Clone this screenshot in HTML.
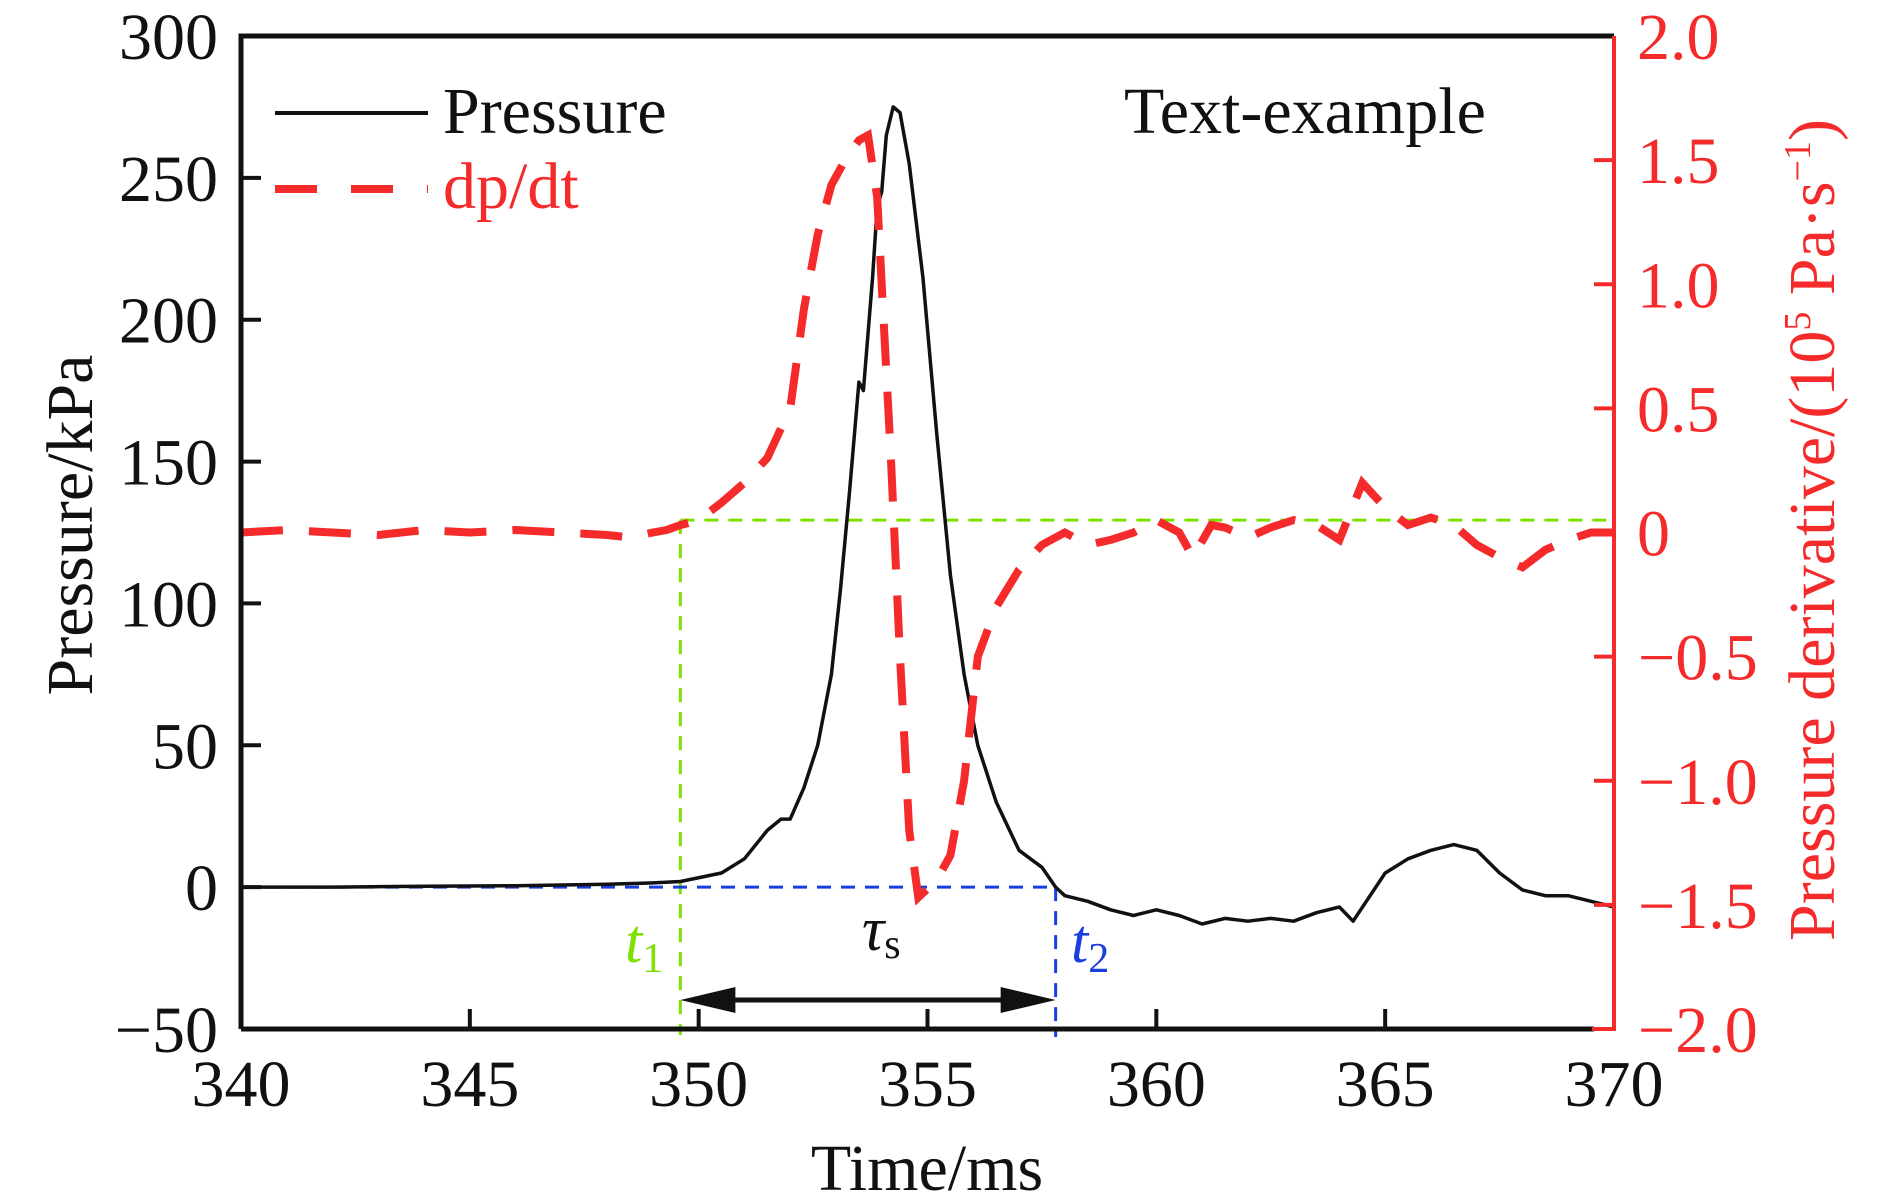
<!DOCTYPE html>
<html><head><meta charset="utf-8"><style>
html,body{margin:0;padding:0;background:#fff;}
svg{display:block;font-family:"Liberation Serif",serif;}
</style></head><body>
<svg id="chart" width="1890" height="1202" viewBox="0 0 1890 1202" xmlns="http://www.w3.org/2000/svg"></svg>
<script>
const xTicks=[340,345,350,355,360,365,370];
const yLeftTicks=[-50,0,50,100,150,200,250,300];
const yRightTicks=[-2.0,-1.5,-1.0,-0.5,0,0.5,1.0,1.5,2.0];
const yRightLabels=["\u22122.0","\u22121.5","\u22121.0","\u22120.5","0","0.5","1.0","1.5","2.0"];
const yLeftLabels=["\u221250","0","50","100","150","200","250","300"];
const pTime=[340,342,344,346,348,349,349.6,350.5,351,351.5,351.8,352,352.3,352.6,352.9,353.1,353.3,353.5,353.6,353.8,353.9,354.0,354.1,354.25,354.4,354.6,354.9,355.2,355.5,355.8,356.1,356.5,357,357.5,357.8,358,358.5,359,359.5,360,360.5,361,361.5,362,362.5,363,363.5,364,364.3,365,365.5,366,366.5,367,367.5,368,368.5,369,369.5,370];
const pValue=[0,0,0.3,0.5,1,1.5,2,5,10,20,24,24,35,50,75,105,140,178,175,215,240,245,265,275,273,255,215,160,110,75,50,30,13,7,0,-3,-5,-8,-10,-8,-10,-13,-11,-12,-11,-12,-9,-7,-12,5,10,13,15,13,5,-1,-3,-3,-5,-7];
const dTime=[340,341,342,343,344,345,346,347,348,348.5,349,349.3,349.6,350,350.5,351,351.5,352,352.3,352.6,352.9,353.2,353.5,353.7,353.9,354.0,354.2,354.4,354.6,354.8,355.2,355.5,355.8,356.1,356.5,357,357.5,358,358.5,359,359.5,360,360.5,360.8,361.2,361.5,362,362.5,363,363.5,364,364.5,365,365.5,366,366.5,367,367.5,368,368.5,369,369.5,370];
const dValue=[0,0.01,0,-0.01,0.01,0,0.01,0,-0.01,-0.02,0,0.01,0.03,0.05,0.12,0.2,0.3,0.5,0.9,1.2,1.4,1.5,1.58,1.6,1.35,1.0,0.3,-0.5,-1.2,-1.47,-1.4,-1.3,-1.0,-0.5,-0.3,-0.15,-0.05,0,-0.05,-0.03,0,0.05,0,-0.1,0.03,0.02,-0.02,0.02,0.05,0.03,-0.03,0.2,0.1,0.03,0.06,0.03,-0.05,-0.1,-0.14,-0.07,-0.03,0,0];
const t1=349.6, t2=357.8, greenLevel=0.05;

const X0=241,X1=1614,YT=36,YB=1029;
const sx=v=>X0+(v-340)/30*(X1-X0);
const sy=v=>YB-(v+50)/350*(YB-YT);
const sr=v=>YB-(v+2)/4*(YB-YT);
const svg=document.getElementById('chart');
const NS='http://www.w3.org/2000/svg';
function mk(tag,attrs,parent){const e=document.createElementNS(NS,tag);for(const k in attrs)e.setAttribute(k,attrs[k]);(parent||svg).appendChild(e);return e;}
function txt(s,attrs){const e=mk('text',attrs);e.textContent=s;return e;}

let g=mk('line',{x1:sx(t1),y1:sr(greenLevel),x2:X1,y2:sr(greenLevel),stroke:'#7ee000','stroke-width':3,'stroke-dasharray':'14 10'});

g=mk('line',{x1:sx(t1),y1:sr(greenLevel),x2:sx(t1),y2:YB+6,stroke:'#7ee000','stroke-width':3,'stroke-dasharray':'14 10'});

g=mk('line',{x1:X0,y1:sy(0),x2:sx(t2),y2:sy(0),stroke:'#1a3fe0','stroke-width':3,'stroke-dasharray':'14 10'});

g=mk('line',{x1:sx(t2),y1:sy(0),x2:sx(t2),y2:YB+8,stroke:'#1a3fe0','stroke-width':3,'stroke-dasharray':'14 10'});


let d=pTime.map((t,i)=>(i?'L':'M')+sx(t).toFixed(1)+','+sy(pValue[i]).toFixed(1)).join('');
g=mk('path',{d:d,fill:'none',stroke:'#111','stroke-width':3.5,'stroke-linejoin':'round'});

d=dTime.map((t,i)=>(i?'L':'M')+sx(t).toFixed(1)+','+sr(dValue[i]).toFixed(1)).join('');
g=mk('path',{d:d,fill:'none',stroke:'#f52a2a','stroke-width':8,'stroke-dasharray':'42 26'});


const ay=1000;
g=mk('line',{x1:sx(t1)+40,y1:ay,x2:sx(t2)-40,y2:ay,stroke:'#111','stroke-width':5});

g=mk('polygon',{points:`${sx(t1)},${ay} ${sx(t1)+55},${ay-13} ${sx(t1)+55},${ay+13}`,fill:'#111'});

g=mk('polygon',{points:`${sx(t2)},${ay} ${sx(t2)-55},${ay-13} ${sx(t2)-55},${ay+13}`,fill:'#111'});


g=mk('path',{d:`M${X0},${YB}V${YT}H${X1}`,fill:'none',stroke:'#111','stroke-width':5});

g=mk('line',{x1:X0,y1:YB,x2:X1-20,y2:YB,stroke:'#111','stroke-width':5});

g=mk('line',{x1:X1,y1:YT,x2:X1,y2:YB+2,stroke:'#f52a2a','stroke-width':4});

g=mk('line',{x1:X1-22,y1:YB,x2:X1+2,y2:YB,stroke:'#f52a2a','stroke-width':4});


xTicks.forEach((v,i)=>{
  if(i>0&&i<xTicks.length-1){const t=mk('line',{x1:sx(v),y1:YB,x2:sx(v),y2:YB-20,stroke:'#111','stroke-width':4});
  }
  const l=txt(String(v),{x:sx(v),y:1106,'font-size':66,'text-anchor':'middle',fill:'#111'});
  
});
yLeftTicks.forEach((v,i)=>{
  if(i>0&&i<yLeftTicks.length-1){const t=mk('line',{x1:X0,y1:sy(v),x2:X0+20,y2:sy(v),stroke:'#111','stroke-width':4});
  }
  const l=txt(yLeftLabels[i],{x:218,y:sy(v)+23,'font-size':66,'text-anchor':'end',fill:'#111'});
  
});
yRightTicks.forEach((v,i)=>{
  if(i>0&&i<yRightTicks.length-1){const t=mk('line',{x1:X1,y1:sr(v),x2:X1-20,y2:sr(v),stroke:'#f52a2a','stroke-width':4});
  }
  const l=txt(yRightLabels[i],{x:v<0?1638:1637,y:sr(v)+23,'font-size':66,'text-anchor':'start',fill:'#f52a2a'});
  
});

g=txt('Time/ms',{x:927,y:1190,'font-size':66,'text-anchor':'middle',fill:'#111'});

g=txt('Pressure/kPa',{x:0,y:0,'font-size':66,'text-anchor':'middle',fill:'#111',transform:'translate(92,525) rotate(-90)'});

g=mk('text',{x:0,y:0,'font-size':66,'text-anchor':'middle',fill:'#f52a2a',transform:'translate(1834,530) rotate(-90)'});

g.innerHTML='Pressure derivative/(10<tspan font-size="38" baseline-shift="24">5</tspan> Pa·s<tspan font-size="38" baseline-shift="24">−1</tspan>)';

g=mk('line',{x1:275,y1:113,x2:428,y2:113,stroke:'#111','stroke-width':4});

g=txt('Pressure',{x:443,y:133,'font-size':66,fill:'#111'});

g=mk('line',{x1:275,y1:189,x2:428,y2:189,stroke:'#f52a2a','stroke-width':8,'stroke-dasharray':'42 34'});

g=txt('dp/dt',{x:443,y:208,'font-size':66,fill:'#f52a2a'});

g=txt('Text-example',{x:1124,y:133,'font-size':66,fill:'#111'});

g=mk('text',{x:625,y:962,'font-size':62,fill:'#7ee000','font-style':'italic'});
g.innerHTML='t<tspan font-size="42" font-style="normal" dy="10">1</tspan>';

g=mk('text',{x:1071,y:962,'font-size':62,fill:'#1a3fe0','font-style':'italic'});
g.innerHTML='t<tspan font-size="42" font-style="normal" dy="10">2</tspan>';

g=mk('text',{x:862,y:950,'font-size':62,fill:'#111','font-style':'italic'});
g.innerHTML='τ<tspan font-size="42" font-style="normal" dy="8">s</tspan>';

</script>
</body></html>
